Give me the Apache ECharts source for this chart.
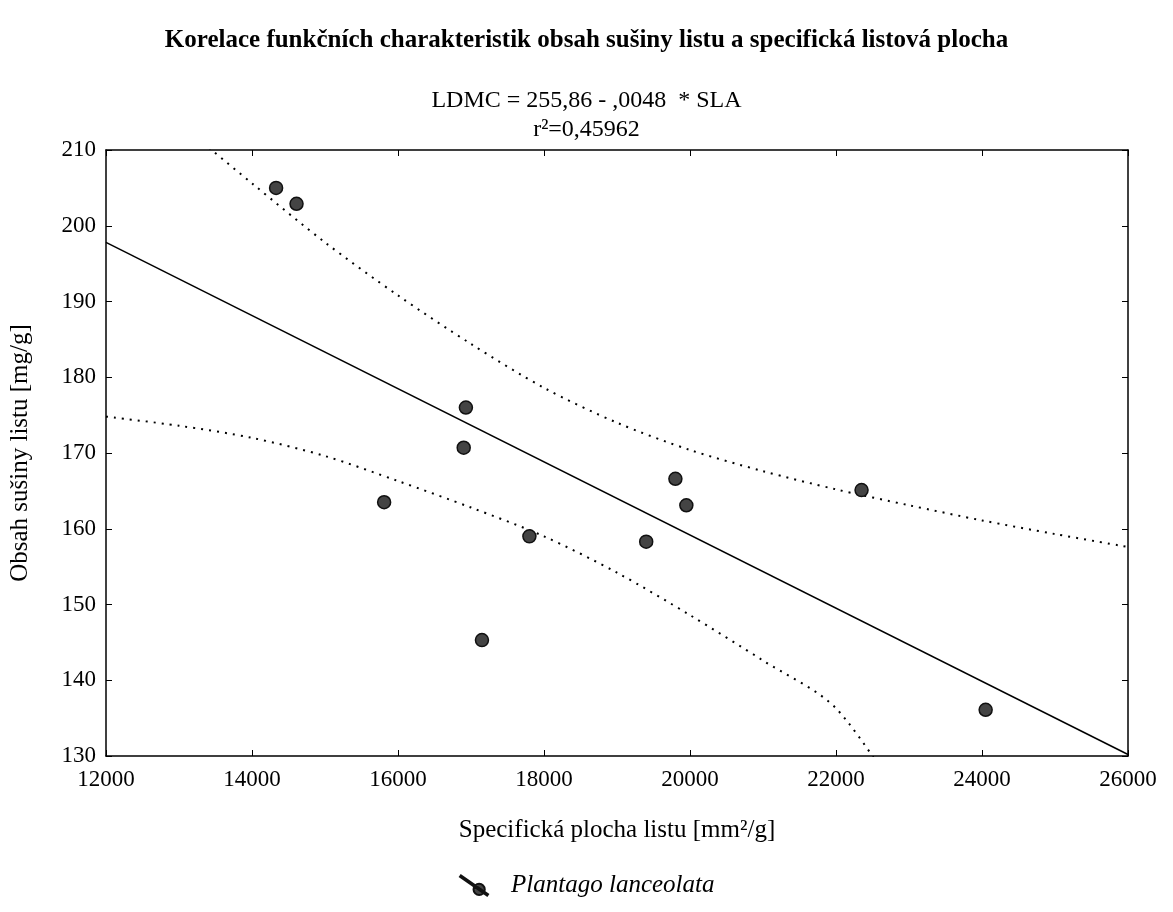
<!DOCTYPE html>
<html>
<head>
<meta charset="utf-8">
<script src="https://cdn.jsdelivr.net/npm/echarts@6/dist/echarts.min.js"></script>
<style>html,body{margin:0;padding:0;background:#fff;}#c{width:1173px;height:912px;}</style>
</head>
<body>
<div id="c"></div>
<script>
// Observed points (SLA, LDMC)
const sla  = [14330, 14610, 15810, 16930, 16900, 17150, 17800, 19400, 19800, 19950, 22350, 24050];
const ldmc = [205.0, 202.9, 163.5, 176.0, 170.7, 145.3, 159.0, 158.3, 166.6, 163.1, 165.1, 136.1];

// Fitted line (ends)
const fitX = [12000, 26000];
const fitY = [197.8, 130.2];

// Upper dotted band
const upX = [13000, 13450, 14000, 15000, 16000, 17000, 18000, 19000, 20000, 21000, 22000, 23000, 24000, 25000, 26000];
const upY = [213.8, 210.0, 205.6, 197.8, 190.8, 184.4, 178.6, 174.0, 170.4, 167.6, 165.2, 163.1, 161.1, 159.3, 157.6];

// Lower dotted band
const loX = [12000, 13000, 14000, 15000, 16000, 17000, 18000, 19000, 20000, 21000, 22000, 23000];
const loY = [174.8, 173.6, 172.0, 169.6, 166.3, 162.8, 159.0, 154.2, 148.6, 142.6, 136.3, 122.5];

const xTicks = [12000, 14000, 16000, 18000, 20000, 22000, 24000, 26000];
const yTicks = [130, 140, 150, 160, 170, 180, 190, 200, 210];

const FONT = 'Liberation Serif';
const zip = (a, b) => a.map((v, i) => [v, b[i]]);

const chart = echarts.init(document.getElementById('c'));
const axisLine = {show: true, lineStyle: {color: '#000', width: 1.5}};
const axisTickIn = {show: true, inside: true, length: 6, lineStyle: {color: '#000', width: 1}};
chart.setOption({
  backgroundColor: '#fff',
  animation: false,
  textStyle: {fontFamily: FONT, color: '#000'},
  title: [
    {text: 'Korelace funkčních charakteristik obsah sušiny listu a specifická listová plocha',
     left: 'center', top: 23,
     textStyle: {fontFamily: FONT, fontWeight: 'bold', fontSize: 25, color: '#000'}},
    {text: 'LDMC = 255,86 - ,0048  * SLA',
     left: 'center', top: 84,
     textStyle: {fontFamily: FONT, fontWeight: 'normal', fontSize: 24, color: '#000'}},
    {text: 'r²=0,45962',
     left: 'center', top: 113,
     textStyle: {fontFamily: FONT, fontWeight: 'normal', fontSize: 24, color: '#000'}}
  ],
  legend: {
    data: ['Plantago lanceolata'],
    left: 454, top: 868,
    itemWidth: 30, itemHeight: 20,
    icon: 'path://M0,0 L1,-1.4 L30,18.6 L29,20 Z M14.5,13.5 A6,6 0 1,0 26.5,13.5 A6,6 0 1,0 14.5,13.5 Z',
    textStyle: {fontFamily: FONT, fontStyle: 'italic', fontSize: 25, color: '#000', padding: [0, 0, 0, 17]}
  },
  grid: {left: 103, right: 45, top: 150, bottom: 156, containLabel: false},
  xAxis: [
    {type: 'value', min: 12000, max: 26000, interval: 2000,
     name: 'Specifická plocha listu [mm²/g]', nameLocation: 'middle', nameGap: 62,
     nameTextStyle: {fontFamily: FONT, fontSize: 25, color: '#000'},
     axisLine: axisLine, axisTick: axisTickIn, splitLine: {show: false},
     axisLabel: {fontFamily: FONT, fontSize: 23, color: '#000', margin: 12,
                 formatter: v => xTicks.includes(v) ? String(v) : ''}},
    {type: 'value', position: 'top', min: 12000, max: 26000, interval: 2000,
     axisLine: axisLine, axisTick: axisTickIn, splitLine: {show: false}, axisLabel: {show: false}}
  ],
  yAxis: [
    {type: 'value', min: 130, max: 210, interval: 10,
     name: 'Obsah sušiny listu [mg/g]', nameLocation: 'middle', nameGap: 73, nameRotate: 90,
     nameTextStyle: {fontFamily: FONT, fontSize: 25, color: '#000'},
     axisLine: axisLine, axisTick: axisTickIn, splitLine: {show: false},
     axisLabel: {fontFamily: FONT, fontSize: 23, color: '#000', margin: 10,
                 formatter: v => yTicks.includes(v) ? String(v) : ''}},
    {type: 'value', position: 'right', min: 130, max: 210, interval: 10,
     axisLine: axisLine, axisTick: axisTickIn, splitLine: {show: false}, axisLabel: {show: false}}
  ],
  series: [
    {name: 'fit', type: 'line', data: zip(fitX, fitY), showSymbol: false, clip: true,
     lineStyle: {color: '#000', width: 1.5}, silent: true, z: 2},
    {name: 'upper', type: 'line', data: zip(upX, upY), showSymbol: false, smooth: 0.3, clip: true,
     lineStyle: {color: '#000', width: 2, type: [2, 6]}, silent: true, z: 2},
    {name: 'lower', type: 'line', data: zip(loX, loY), showSymbol: false, smooth: 0.3, clip: true,
     lineStyle: {color: '#000', width: 2, type: [2, 6]}, silent: true, z: 2},
    {name: 'Plantago lanceolata', type: 'scatter', data: zip(sla, ldmc), symbolSize: 13,
     itemStyle: {color: '#444', borderColor: '#111', borderWidth: 1.5, opacity: 1}, z: 3}
  ]
});
</script>
</body>
</html>
